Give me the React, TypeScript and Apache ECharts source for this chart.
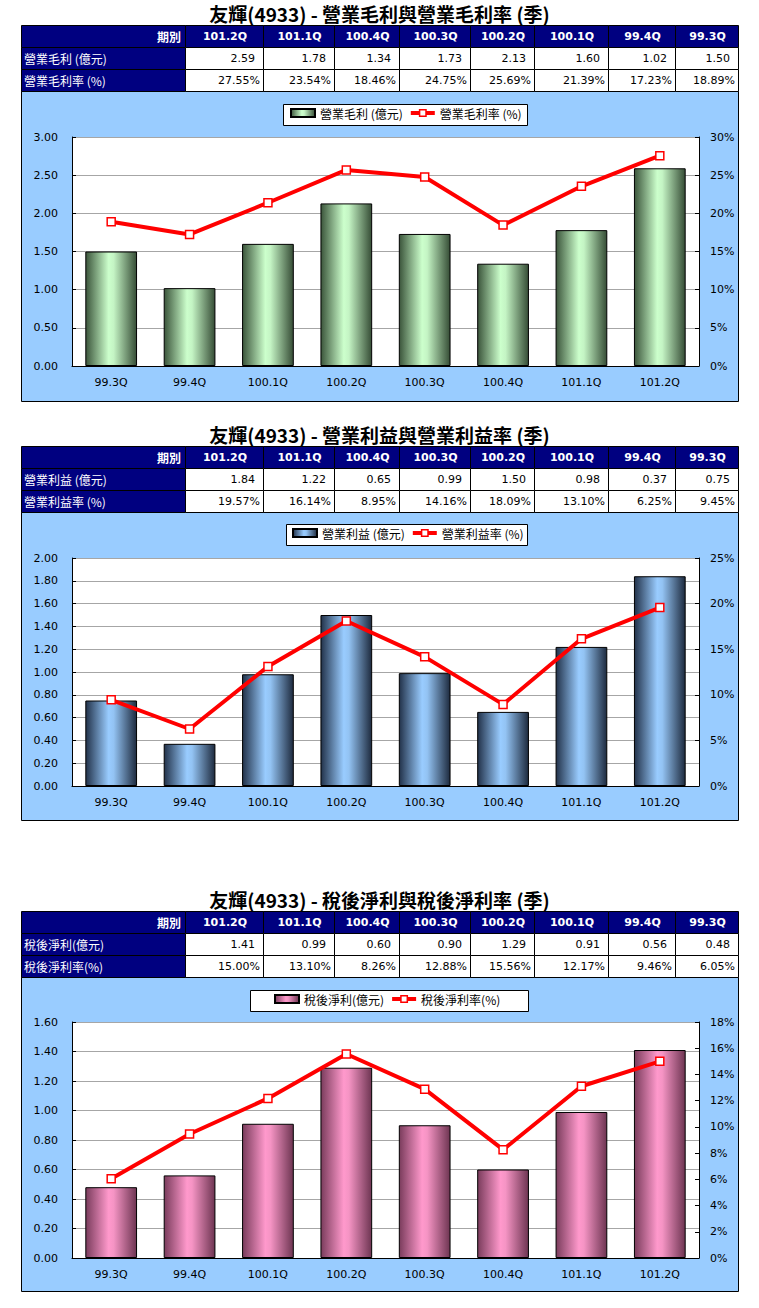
import React, { useEffect, useRef } from 'react';
import * as echarts from 'echarts';

// ---------- data ----------
const categories = ['99.3Q', '99.4Q', '100.1Q', '100.2Q', '100.3Q', '100.4Q', '101.1Q', '101.2Q'];
const grossProfit = [1.50, 1.02, 1.60, 2.13, 1.73, 1.34, 1.78, 2.59];
const grossMargin = [18.89, 17.23, 21.39, 25.69, 24.75, 18.46, 23.54, 27.55];
const opProfit = [0.75, 0.37, 0.98, 1.50, 0.99, 0.65, 1.22, 1.84];
const opMargin = [9.45, 6.25, 13.10, 18.09, 14.16, 8.95, 16.14, 19.57];
const netProfit = [0.48, 0.56, 0.91, 1.29, 0.90, 0.60, 0.99, 1.41];
const netMargin = [6.05, 9.46, 12.17, 15.56, 12.88, 8.26, 13.10, 15.00];

const titles = [
  '友輝(4933) - 營業毛利與營業毛利率 (季)',
  '友輝(4933) - 營業利益與營業利益率 (季)',
  '友輝(4933) - 稅後淨利與稅後淨利率 (季)',
];
const barNames = ['營業毛利 (億元)', '營業利益 (億元)', '稅後淨利(億元)'];
const lineNames = ['營業毛利率 (%)', '營業利益率 (%)', '稅後淨利率(%)'];
const periodHeader = '期別';
const barValues = [grossProfit, opProfit, netProfit];
const lineValues = [grossMargin, opMargin, netMargin];
const leftMax = [3, 2, 1.6];
const leftInterval = [0.5, 0.2, 0.2];
const rightMax = [30, 25, 18];
const rightInterval = [5, 5, 2];

// ---------- layout / style ----------
const LAT = 'DejaVu Sans';
const CJK = 'Noto Sans CJK TC, DejaVu Sans, sans-serif';
const NAVY = '#000080';
const BLUE_BG = '#99ccff';
const colEdges = [21, 185, 263, 334, 399, 470, 534, 608, 675, 738];
const ROW_H = 22;

const sections = [
  { titleC: 12, tableTop: 25, boxBottom: 401, gridTop: 137, gridBottom: 366, lbox: [283, 104, 244, 21], legLeft: 290 },
  { titleC: 433, tableTop: 446, boxBottom: 820, gridTop: 558, gridBottom: 786, lbox: [286, 524, 241, 21], legLeft: 292 },
  { titleC: 898, tableTop: 911, boxBottom: 1291, gridTop: 1022, gridBottom: 1258, lbox: [250, 990, 278, 21], legLeft: 274 },
];

const barGradients = [
  ['#3b553b', '#ccffcc', '#c4f4c4', '#364d36'],
  ['#22324a', '#99ccff', '#93c3f3', '#1e2b3f'],
  ['#7a3c5c', '#ff99cc', '#f594c4', '#6e3552'],
];

function grad(c: string[]) {
  return new echarts.graphic.LinearGradient(0, 0, 1, 0, [
    { offset: 0, color: c[0] },
    { offset: 0.45, color: c[1] },
    { offset: 0.55, color: c[2] },
    { offset: 1, color: c[3] },
  ]);
}

function txt(text: string, x: number, y: number, align: string, opts: any) {
  return {
    type: 'text',
    z: 5,
    style: {
      text, x, y,
      align, textAlign: align,
      verticalAlign: 'middle', textVerticalAlign: 'middle',
      ...opts,
    },
  };
}

function buildGraphics() {
  const els: any[] = [];
  sections.forEach((s, si) => {
    els.push({
      type: 'rect', z: -10,
      shape: { x: colEdges[0] + 0.5, y: s.tableTop + 3 * ROW_H + 0.5, width: colEdges[9] - colEdges[0], height: s.boxBottom - (s.tableTop + 3 * ROW_H) },
      style: { fill: BLUE_BG, stroke: '#000', lineWidth: 1 },
    });
    els.push({
      type: 'rect', z: -5,
      shape: { x: s.lbox[0] + 0.5, y: s.lbox[1] + 0.5, width: s.lbox[2], height: s.lbox[3] },
      style: { fill: '#fff', stroke: '#000', lineWidth: 1 },
    });
    const revCats = categories.slice().reverse();
    const revBar = barValues[si].slice().reverse();
    const revLine = lineValues[si].slice().reverse();
    const rows = [
      [periodHeader, ...revCats],
      [barNames[si], ...revBar.map((v) => v.toFixed(2))],
      [lineNames[si], ...revLine.map((v) => v.toFixed(2) + '%')],
    ];
    rows.forEach((row, ri) => {
      const y0 = s.tableTop + ri * ROW_H;
      const yc = y0 + ROW_H / 2 + 0.5;
      row.forEach((cell, ci) => {
        const x0 = colEdges[ci];
        const x1 = colEdges[ci + 1];
        const navy = ri === 0 || ci === 0;
        els.push({
          type: 'rect', z: 1,
          shape: { x: x0 + 0.5, y: y0 + 0.5, width: x1 - x0, height: ROW_H },
          style: { fill: navy ? NAVY : '#fff', stroke: '#000', lineWidth: 1 },
        });
        if (ri === 0 && ci === 0) {
          els.push(txt(cell, x1 - 4, yc, 'right', { fill: '#fff', fontSize: 12, fontWeight: 'bold', fontFamily: CJK }));
        } else if (ri === 0) {
          els.push(txt(cell, (x0 + x1) / 2 + 1, yc, 'center', { fill: '#fff', fontSize: 11, fontWeight: 'bold', fontFamily: LAT }));
        } else if (ci === 0) {
          els.push(txt(cell, x0 + 3, yc, 'left', { fill: '#fff', fontSize: 12, fontFamily: CJK }));
        } else {
          const pad = ri === 1 ? 8 : 3;
          els.push(txt(cell, x1 - pad, yc, 'right', { fill: '#000', fontSize: 11, fontFamily: LAT }));
        }
      });
    });
  });
  return els;
}

export default function App() {
  const ref = useRef<HTMLDivElement>(null);
  useEffect(() => {
    if (!ref.current) return;
    const chart = echarts.init(ref.current, null, { renderer: 'svg' });

    const grid = sections.map((s) => ({
      show: true,
      backgroundColor: '#fff',
      borderWidth: 0,
      left: 72,
      width: 699 - 72,
      top: s.gridTop,
      height: s.gridBottom - s.gridTop,
    }));

    const xAxis = sections.map((_, i) => ({
      type: 'category',
      gridIndex: i,
      data: categories,
      boundaryGap: true,
      axisLine: { show: true, lineStyle: { color: '#000', width: 1 } },
      axisTick: { show: false },
      axisLabel: { color: '#000', fontSize: 11, fontFamily: LAT, margin: 11 },
      splitLine: { show: false },
    }));

    const yAxis: any[] = [];
    sections.forEach((_, i) => {
      yAxis.push({
        type: 'value', gridIndex: i, position: 'left',
        min: 0, max: leftMax[i], interval: leftInterval[i],
        axisLine: { show: true, lineStyle: { color: '#000', width: 1 } },
        axisTick: { show: true, inside: true, length: 4, lineStyle: { color: '#000' } },
        splitLine: { show: true, lineStyle: { color: '#a6a6a6', width: 1 } },
        axisLabel: { color: '#000', fontSize: 11, fontFamily: LAT, margin: 14, formatter: (v: number) => v.toFixed(2) },
      });
      yAxis.push({
        type: 'value', gridIndex: i, position: 'right',
        min: 0, max: rightMax[i], interval: rightInterval[i],
        axisLine: { show: true, lineStyle: { color: '#000', width: 1 } },
        axisTick: { show: true, inside: true, length: 4, lineStyle: { color: '#000' } },
        splitLine: { show: false },
        axisLabel: { color: '#000', fontSize: 11, fontFamily: LAT, margin: 11, formatter: (v: number) => Math.round(v) + '%' },
      });
    });

    const series: any[] = [];
    sections.forEach((_, i) => {
      series.push({
        type: 'bar', name: barNames[i],
        xAxisIndex: i, yAxisIndex: i * 2,
        data: barValues[i],
        barWidth: '66%',
        itemStyle: { color: grad(barGradients[i]), borderColor: '#000', borderWidth: 1 },
        z: 2,
      });
      series.push({
        type: 'line', name: lineNames[i],
        xAxisIndex: i, yAxisIndex: i * 2 + 1,
        data: lineValues[i],
        symbol: 'rect', symbolSize: 8,
        lineStyle: { color: '#ff0000', width: 4 },
        itemStyle: { color: '#ffffff', borderColor: '#ff0000', borderWidth: 1.5 },
        z: 3,
      });
    });

    const legend = sections.map((s, i) => ({
      left: s.legLeft,
      top: s.lbox[1] + 3,
      orient: 'horizontal',
      padding: 0,
      itemWidth: 24,
      itemHeight: 8,
      itemGap: 6,
      selectedMode: false,
      textStyle: { fontSize: 12, fontFamily: CJK, color: '#000' },
      data: [
        { name: barNames[i], icon: 'rect' },
        { name: lineNames[i], itemStyle: { color: '#fff', borderColor: '#ff0000', borderWidth: 1.5 }, lineStyle: { color: '#ff0000', width: 4 } },
      ],
    }));

    const title = sections.map((s, i) => ({
      text: titles[i],
      left: 'center',
      top: s.titleC - 10,
      padding: 0,
      textStyle: { fontSize: 19, lineHeight: 22, fontWeight: 'bold', fontFamily: 'Noto Sans CJK TC', color: '#000' },
    }));

    chart.setOption({
      animation: false,
      backgroundColor: '#fff',
      title,
      legend,
      grid,
      xAxis,
      yAxis,
      series,
      graphic: { elements: buildGraphics() },
    });
    return () => chart.dispose();
  }, []);
  return <div ref={ref} style={{ position: 'absolute', left: 0, top: 0, width: 759, height: 1308 }} />;
}
